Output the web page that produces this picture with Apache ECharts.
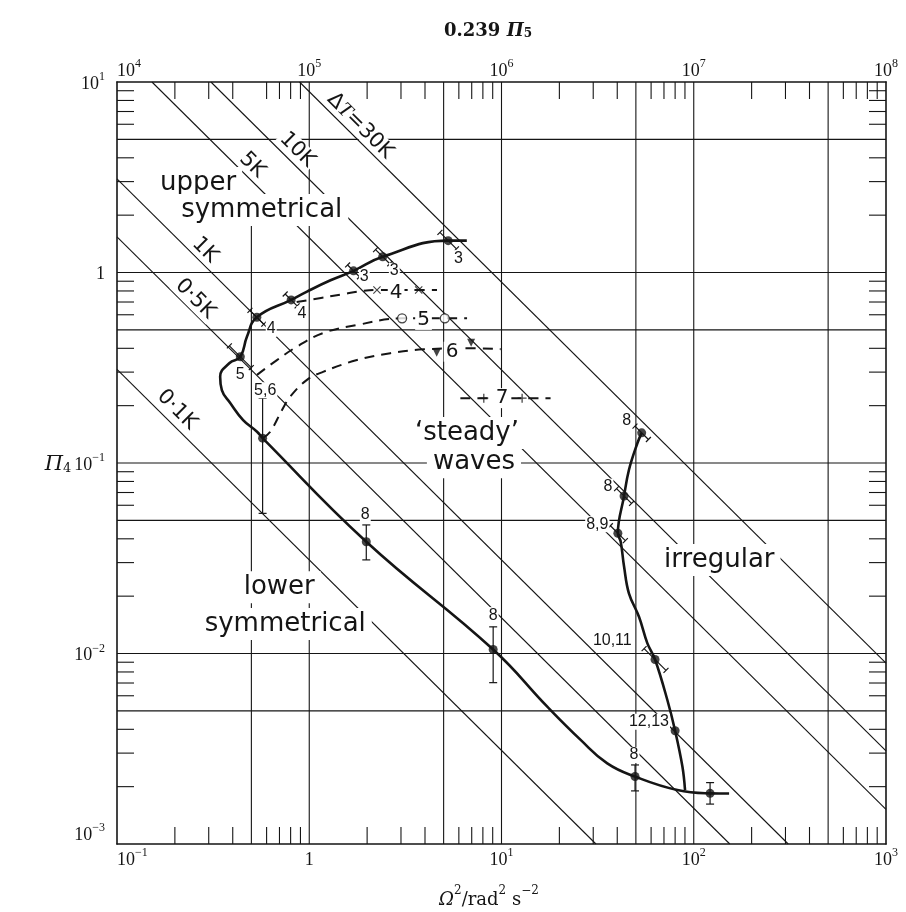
<!DOCTYPE html>
<html>
<head>
<meta charset="utf-8">
<script src="https://cdn.jsdelivr.net/npm/echarts@6/dist/echarts.min.js"></script>
<style>
  html, body { margin: 0; padding: 0; background: #fff; }
  #chart { width: 906px; height: 912px; }
</style>
</head>
<body>
<div id="chart"></div>
<script>
// ---- axes ----
const xRange = [0.1, 1000];          // Ω² / rad² s⁻²
const yRange = [0.001, 10];          // Π4
const topRange = [1e4, 1e8];         // 0.239 Π5
const gridX = [0.5, 1, 5, 10, 50, 100, 500];
const gridXTop = [2.3, 10, 10, 10, 10, 10, 10];   // upper end of each vertical rule
const gridY = [0.005, 0.01, 0.05, 0.1, 0.5, 1, 5];
const decadesX = [0.1, 1, 10, 100];
const decadesY = [0.001, 0.01, 0.1, 1];
const minorSteps = [2, 3, 4, 6, 7, 8, 9];

// ---- lines of constant ΔT (Π4 · Ω² = const) ----
const deltaTNames = ['0·1K', '0·5K', '1K', '5K', '10K', 'ΔT=30K'];
const deltaTProduct = [0.031, 0.154, 0.31, 1.52, 3.08, 8.9];
const deltaTLabelAt = [[0.205, 0.190], [0.255, 0.726], [0.287, 1.31], [0.505, 3.66], [0.866, 4.40], [1.84, 5.88]];

// ---- regime boundary (solid): upper symmetrical → lower symmetrical ----
const outerBoundary = [
  [6.6, 1.47], [5.28, 1.47], [2.41, 1.21], [1.70, 1.02], [1.29, 0.91], [0.973, 0.794],
  [0.805, 0.718], [0.534, 0.582], [0.474, 0.46], [0.438, 0.361], [0.385, 0.335],
  [0.344, 0.284], [0.351, 0.2415], [0.388, 0.2066], [0.453, 0.168], [0.535, 0.146],
  [0.572, 0.135], [1.98, 0.0386], [9.05, 0.0105], [17.3, 0.00526], [25.8, 0.00352],
  [35.5, 0.00265], [49.5, 0.00226], [82.2, 0.00192], [121.6, 0.001845],
  [152.7, 0.00184]
];
// ---- 'steady' waves / irregular boundary ----
const irregularBoundary = [
  [53.6, 0.144], [50.9, 0.127], [46.0, 0.0919], [43.4, 0.0671], [40.3, 0.0428],
  [41.7, 0.0386], [43.4, 0.0286], [46.0, 0.0207], [51.9, 0.0156], [57.4, 0.0113],
  [62.9, 0.0093], [72.9, 0.0057], [80.0, 0.00393], [87.3, 0.00255], [90.1, 0.00192]
];

// ---- measured points ----
const pointsDiagErr = [   // [Ω², Π4, half-width (decades) along ΔT line]
  [5.28, 1.47, 0.043], [2.41, 1.21, 0.037], [1.70, 1.02, 0.031], [0.805, 0.718, 0.031],
  [0.534, 0.582, 0.036], [0.438, 0.361, 0.057],
  [53.6, 0.144, 0.035], [43.4, 0.0671, 0.039], [40.3, 0.0428, 0.039], [62.9, 0.0093, 0.057]
];
const pointsVertErr = [   // [Ω², Π4, low, high]
  [0.572, 0.135, 0.0544, 0.219], [1.98, 0.0386, 0.031, 0.0473], [9.05, 0.0105, 0.00703, 0.0138],
  [49.5, 0.00226, 0.0019, 0.0026], [121.6, 0.001845, 0.00162, 0.0021], [80.0, 0.00393, 0.00393, 0.00393]
];

// ---- transition curves within 'steady' waves ----
const curve4 = [[0.86, 0.70], [1.15, 0.735], [1.5, 0.77], [1.9, 0.80], [2.25, 0.81], [3.71, 0.81], [4.62, 0.81]];
const marks4 = [[2.25, 0.81], [3.71, 0.81]];
const curve5 = [[0.535, 0.290], [0.679, 0.347], [0.863, 0.408], [1.18, 0.481], [1.77, 0.53], [3.04, 0.575], [5.07, 0.575], [6.62, 0.575]];
const marks5 = [[3.04, 0.575], [5.07, 0.575]];
const curve6 = [[0.572, 0.135], [0.627, 0.146], [0.722, 0.190], [0.796, 0.223], [0.973, 0.273], [1.18, 0.301], [1.77, 0.347], [2.64, 0.377], [3.94, 0.395], [6.95, 0.40], [9.9, 0.396]];
const marks6 = [[4.6, 0.379], [6.95, 0.428]];
const curve7 = [[6.11, 0.219], [8.09, 0.219], [12.8, 0.219], [18.0, 0.219]];
const marks7 = [[8.09, 0.219], [12.8, 0.219]];
const curveNames = ['4', '5', '6', '7'];
const curveNameAt = [[2.83, 0.78], [3.93, 0.564], [5.53, 0.384], [10.08, 0.219]];

// ---- run numbers beside points ----
const runText = ['3', '3', '3', '4', '4', '5', '5,6', '8', '8', '8', '8', '8', '8,9', '10,11', '12,13'];
const runAt = [[1.934, 0.947], [2.77, 1.02], [5.97, 1.19], [0.916, 0.606], [0.634, 0.505], [0.437, 0.290],
  [0.590, 0.241], [1.957, 0.0533], [9.05, 0.0159], [48.9, 0.00293], [44.8, 0.1667], [35.8, 0.0752],
  [31.5, 0.0477], [37.7, 0.01167], [58.5, 0.00438]];

// ---- regime names ----
const regionText = ['upper', 'symmetrical', '\u2018steady\u2019', 'waves', 'lower', 'symmetrical', 'irregular'];
const regionAt = [[0.264, 2.95], [0.566, 2.13], [6.61, 0.1437], [7.19, 0.101], [0.698, 0.0223], [0.750, 0.01428], [135.8, 0.031]];

// ------------------------------------------------------------------
const SERIF = '"Liberation Serif", "DejaVu Serif", serif';
const WSERIF = '"DejaVu Serif", serif';
const SANS = '"DejaVu Sans", sans-serif';
const INK = '#151515';

const minorX = decadesX.flatMap(d => minorSteps.map(m => m * d));
const minorY = decadesY.flatMap(d => minorSteps.map(m => m * d));

function powerLabel(v) {
  const e = Math.round(Math.log10(v));
  if (e === 0) return '{b|1}';
  return '{b|10}{s|' + (e < 0 ? '\u2212' + (-e) : e) + '}';
}
const powerRich = {
  b: { fontFamily: SERIF, fontSize: 18, color: INK, lineHeight: 22, verticalAlign: 'bottom' },
  s: { fontFamily: SERIF, fontSize: 12, color: INK, lineHeight: 22, verticalAlign: 'top' }
};

const thin = { stroke: INK, lineWidth: 1.1 };
const TICK = 17;

function lineEl(a, b, style) {
  return { type: 'line', shape: { x1: a[0], y1: a[1], x2: b[0], y2: b[1] }, style: style || thin };
}

// grid lines
function renderVGrid(params, api) {
  const v = api.value(0);
  return lineEl(api.coord([v, yRange[0]]), api.coord([v, api.value(1)]));
}
function renderHGrid(params, api) {
  const v = api.value(1);
  return lineEl(api.coord([xRange[0], v]), api.coord([xRange[1], v]));
}
// inward ticks on the four sides
function renderXTicks(params, api) {
  const v = api.value(0);
  const b = api.coord([v, yRange[0]]);
  const t = api.coord([v, yRange[1]]);
  return { type: 'group', children: [
    lineEl(b, [b[0], b[1] - TICK]),
    lineEl(t, [t[0], t[1] + TICK])
  ] };
}
function renderYTicks(params, api) {
  const v = api.value(1);
  const l = api.coord([xRange[0], v]);
  const r = api.coord([xRange[1], v]);
  return { type: 'group', children: [
    lineEl(l, [l[0] + TICK, l[1]]),
    lineEl(r, [r[0] - TICK, r[1]])
  ] };
}
// error bars with end caps
function capped(p, q, cap, style) {
  const dx = q[0] - p[0], dy = q[1] - p[1];
  const len = Math.hypot(dx, dy) || 1;
  const nx = -dy / len * cap, ny = dx / len * cap;
  return [
    lineEl(p, q, style),
    lineEl([p[0] - nx, p[1] - ny], [p[0] + nx, p[1] + ny], style),
    lineEl([q[0] - nx, q[1] - ny], [q[0] + nx, q[1] + ny], style)
  ];
}
function renderDiagErr(params, api) {
  const x = api.value(0), y = api.value(1), f = Math.pow(10, api.value(2));
  const p = api.coord([x / f, y * f]);
  const q = api.coord([x * f, y / f]);
  return { type: 'group', children: capped(p, q, 3.5, { stroke: INK, lineWidth: 1.2 }) };
}
function renderVertErr(params, api) {
  const x = api.value(0);
  const lo = api.value(2), hi = api.value(3);
  if (lo === hi) return { type: 'group', children: [] };
  const p = api.coord([x, lo]);
  const q = api.coord([x, hi]);
  return { type: 'group', children: capped(p, q, 4, { stroke: INK, lineWidth: 1.2 }) };
}
// text boxes anchored in data space
function textRenderer(texts, font, opts) {
  opts = opts || {};
  return function (params, api) {
    const p = api.coord([api.value(0), api.value(1)]);
    const style = {
      text: texts[params.dataIndex], font: font, fill: INK,
      align: 'center', verticalAlign: 'middle',
      backgroundColor: '#fff', padding: opts.padding || [1, 2]
    };
    if (opts.rich) style.rich = opts.rich;
    return { type: 'text', x: p[0], y: p[1], rotation: opts.rotation || 0, style: style };
  };
}

const series = [];
const base = { xAxisIndex: 0, yAxisIndex: 0, silent: true, animation: false };

series.push(Object.assign({ type: 'custom', z: 1, renderItem: renderVGrid, data: gridX.map((v, i) => [v, gridXTop[i]]) }, base));
series.push(Object.assign({ type: 'custom', z: 1, renderItem: renderHGrid, data: gridY.map(v => [1, v]) }, base));
series.push(Object.assign({ type: 'custom', z: 1, renderItem: renderXTicks, data: minorX.map(v => [v, 1]) }, base));
series.push(Object.assign({ type: 'custom', z: 1, renderItem: renderYTicks, data: minorY.map(v => [1, v]) }, base));

// ΔT lines, clipped to the frame
deltaTProduct.forEach(c => {
  const x1 = Math.max(xRange[0], c / yRange[1]);
  const x2 = Math.min(xRange[1], c / yRange[0]);
  series.push(Object.assign({
    type: 'line', z: 2, symbol: 'none',
    lineStyle: { color: INK, width: 1.1 },
    data: [[x1, c / x1], [x2, c / x2]]
  }, base));
});

// labels with white boxes (they interrupt the lines beneath)
series.push(Object.assign({ type: 'custom', z: 3, data: regionAt,
  renderItem: textRenderer(regionText, '26px ' + SANS, { padding: [3, 6] }) }, base));
series.push(Object.assign({ type: 'custom', z: 3, data: deltaTLabelAt,
  renderItem: textRenderer(deltaTNames.map(t => t.startsWith('Δ') ? '{n|Δ}{i|T}{n|=30K}' : t), '21px ' + SANS, {
    rotation: -Math.PI / 4, padding: [0, 2],
    rich: { n: { font: '21px ' + SANS, fill: INK }, i: { font: 'italic 21px ' + SERIF, fill: INK } }
  }) }, base));
series.push(Object.assign({ type: 'custom', z: 6, data: runAt,
  renderItem: textRenderer(runText, '16px "Liberation Sans", sans-serif', { padding: [0, 1] }) }, base));
series.push(Object.assign({ type: 'custom', z: 6, data: curveNameAt,
  renderItem: textRenderer(curveNames, '20px ' + SANS, { padding: [0, 2] }) }, base));

// regime boundaries
series.push(Object.assign({ type: 'line', z: 4, symbol: 'none', smooth: 0.45,
  lineStyle: { color: INK, width: 2.6 }, data: outerBoundary }, base));
series.push(Object.assign({ type: 'line', z: 4, symbol: 'none', smooth: 0.4,
  lineStyle: { color: INK, width: 2.6 }, data: irregularBoundary }, base));

// dashed transition curves
[curve4, curve5, curve6, curve7].forEach(d => {
  series.push(Object.assign({ type: 'line', z: 4, symbol: 'none', smooth: 0.4,
    lineStyle: { color: INK, width: 2, type: [10, 7] }, data: d }, base));
});

// error bars
series.push(Object.assign({ type: 'custom', z: 5, renderItem: renderDiagErr, data: pointsDiagErr }, base));
series.push(Object.assign({ type: 'custom', z: 5, renderItem: renderVertErr, data: pointsVertErr }, base));

// markers
series.push(Object.assign({ type: 'scatter', z: 7, symbol: 'circle', symbolSize: 9,
  itemStyle: { color: INK }, data: pointsDiagErr.map(p => [p[0], p[1]]).concat(pointsVertErr.map(p => [p[0], p[1]])) }, base));
series.push(Object.assign({ type: 'scatter', z: 7, symbol: 'path://M0,1L1,0L5,4L9,0L10,1L6,5L10,9L9,10L5,6L1,10L0,9L4,5Z',
  symbolSize: 8, itemStyle: { color: INK }, data: marks4 }, base));
series.push(Object.assign({ type: 'scatter', z: 7, symbol: 'circle', symbolSize: 9,
  itemStyle: { color: '#fff', borderColor: INK, borderWidth: 1.3 }, data: marks5 }, base));
series.push(Object.assign({ type: 'scatter', z: 7, symbol: 'triangle', symbolRotate: 180, symbolSize: 8,
  itemStyle: { color: INK }, data: marks6 }, base));
series.push(Object.assign({ type: 'scatter', z: 7, symbol: 'path://M4.3,0H5.7V4.3H10V5.7H5.7V10H4.3V5.7H0V4.3H4.3Z',
  symbolSize: 9, itemStyle: { color: INK }, data: marks7 }, base));

const axisLine = { show: true, lineStyle: { color: INK, width: 1.6 } };

const option = {
  backgroundColor: '#fff',
  animation: false,
  grid: { left: 117, right: 20, top: 82, bottom: 68, containLabel: false },
  xAxis: [
    { type: 'log', logBase: 10, min: xRange[0], max: xRange[1], position: 'bottom',
      axisLine: axisLine, axisTick: { show: false }, splitLine: { show: false },
      axisLabel: { formatter: powerLabel, rich: powerRich, margin: 3, showMinLabel: true, showMaxLabel: true,
        hideOverlap: false, alignMinLabel: 'left' } },
    { type: 'log', logBase: 10, min: topRange[0], max: topRange[1], position: 'top',
      axisLine: axisLine, axisTick: { show: false }, splitLine: { show: false },
      axisLabel: { formatter: powerLabel, rich: powerRich, margin: 2, showMinLabel: true, showMaxLabel: true,
        hideOverlap: false, alignMinLabel: 'left' } }
  ],
  yAxis: [
    { type: 'log', logBase: 10, min: yRange[0], max: yRange[1], position: 'left',
      axisLine: axisLine, axisTick: { show: false }, splitLine: { show: false },
      axisLabel: { formatter: powerLabel, rich: powerRich, margin: 12, showMinLabel: true, showMaxLabel: true,
        hideOverlap: false, verticalAlignMinLabel: 'bottom' } },
    { type: 'log', logBase: 10, min: yRange[0], max: yRange[1], position: 'right',
      axisLine: axisLine, axisTick: { show: false }, splitLine: { show: false }, axisLabel: { show: false } }
  ],
  graphic: [
    { type: 'text', x: 488, y: 16, style: {
      align: 'center',
      text: '{a|0.239 }{p|\u03A0}{u|5}', rich: {
        a: { font: 'bold 18px ' + WSERIF, fill: INK, verticalAlign: 'bottom', lineHeight: 24 },
        p: { font: 'bold italic 18px ' + WSERIF, fill: INK, verticalAlign: 'bottom', lineHeight: 24 },
        u: { font: 'bold 12px ' + WSERIF, fill: INK, verticalAlign: 'bottom', lineHeight: 20 }
      } } },
    { type: 'text', x: 58, y: 462, style: {
      align: 'center', verticalAlign: 'middle',
      text: '{p|\u03A0}{u|4}', rich: {
        p: { font: 'italic 21px ' + WSERIF, fill: INK, verticalAlign: 'bottom', lineHeight: 26 },
        u: { font: '13px ' + WSERIF, fill: INK, verticalAlign: 'bottom', lineHeight: 20 }
      } } },
    { type: 'text', x: 489, y: 897, style: {
      align: 'center', verticalAlign: 'middle',
      text: '{o|\u03A9}{s|2}{t|/rad}{s|2}{t| s}{s|\u22122}', rich: {
        o: { font: 'italic 18px ' + WSERIF, fill: INK, verticalAlign: 'bottom', lineHeight: 24 },
        t: { font: '18px ' + WSERIF, fill: INK, verticalAlign: 'bottom', lineHeight: 24 },
        s: { font: '12px ' + WSERIF, fill: INK, verticalAlign: 'top', lineHeight: 24 }
      } } }
  ],
  series: series
};

const chart = echarts.init(document.getElementById('chart'));
chart.setOption(option);
</script>
</body>
</html>
